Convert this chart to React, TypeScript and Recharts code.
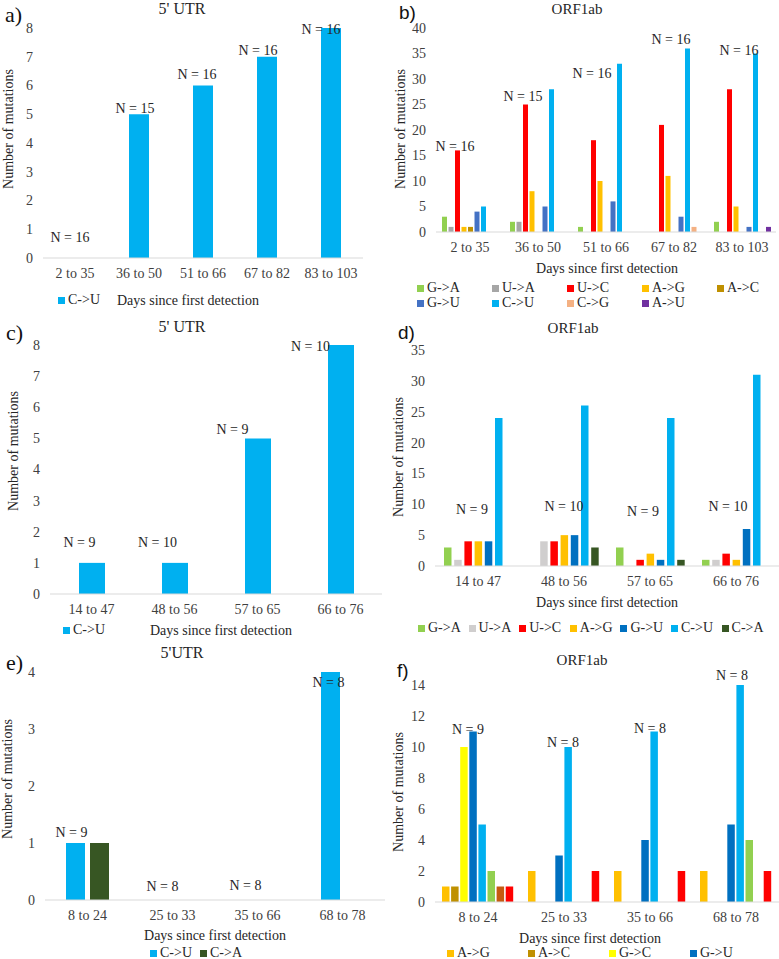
import { BarChart, Bar, XAxis, YAxis, Legend, ReferenceDot } from "recharts"

const SERIF = '"Liberation Serif", "Times New Roman", Times, serif'
const SANS = '"Liberation Sans", Arial, Helvetica, sans-serif'
const INK = "#262626"
const TICK = "#404040"
const AXIS = "#D9D9D9"

// mutation colours
const CU = "#00B0F0"
const GA = "#92D050"
const UA = "#A6A6A6"
const UA_LIGHT = "#D0CECE"
const UC = "#FF0000"
const AG = "#FFC000"
const AC = "#BF9000"
const GU = "#4472C4"
const GU_DARK = "#0070C0"
const CG = "#F4B183"
const AU = "#7030A0"
const CA = "#375623"
const GC = "#FFFF00"
const UG = "#C55A11"

// a) 5' UTR, first cohort
const aDays = ["2 to 35", "36 to 50", "51 to 66", "67 to 82", "83 to 103"]
const aTicks = [0, 1, 2, 3, 4, 5, 6, 7, 8]
const aCU = [0, 5, 6, 7, 8]
const aN = [16, 15, 16, 16, 16]
const aNAt = [0.73, 5.2, 6.37, 7.23, 7.96]

// b) ORF1ab, first cohort
const bDays = ["2 to 35", "36 to 50", "51 to 66", "67 to 82", "83 to 103"]
const bTicks = [0, 5, 10, 15, 20, 25, 30, 35, 40]
const bGA = [3, 2, 1, 0, 2]
const bUA = [1, 2, 0, 0, 0]
const bUC = [16, 25, 18, 21, 28]
const bAG = [1, 8, 10, 11, 5]
const bAC = [1, 0, 0, 0, 0]
const bGU = [4, 5, 6, 3, 1]
const bCU = [5, 28, 33, 36, 35]
const bCG = [0, 0, 0, 1, 0]
const bAU = [0, 0, 0, 0, 1]
const bN = [16, 15, 16, 16, 16]
const bNAt = [16.7, 26.5, 31, 37.8, 35.5]

// c) 5' UTR, second cohort
const cDays = ["14 to 47", "48 to 56", "57 to 65", "66 to 76"]
const cTicks = [0, 1, 2, 3, 4, 5, 6, 7, 8]
const cCU = [1, 1, 5, 8]
const cN = [9, 10, 9, 10]
const cNAt = [1.64, 1.64, 5.27, 7.94]

// d) ORF1ab, second cohort
const dDays = ["14 to 47", "48 to 56", "57 to 65", "66 to 76"]
const dTicks = [0, 5, 10, 15, 20, 25, 30, 35]
const dGA = [3, 0, 3, 1]
const dUA = [1, 4, 0, 1]
const dUC = [4, 4, 1, 2]
const dAG = [4, 5, 2, 1]
const dGU = [4, 5, 1, 6]
const dCU = [24, 26, 24, 31]
const dCA = [0, 3, 1, 0]
const dN = [9, 10, 9, 10]
const dNAt = [9.1, 9.6, 8.8, 9.6]

// e) 5'UTR, third cohort
const eDays = ["8 to 24", "25 to 33", "35 to 66", "68 to 78"]
const eTicks = [0, 1, 2, 3, 4]
const eCU = [1, 0, 0, 4]
const eCA = [1, 0, 0, 0]
const eN = [9, 8, 8, 8]
const eNAt = [1.19, 0.23, 0.26, 3.82]

// f) ORF1ab, third cohort
const fDays = ["8 to 24", "25 to 33", "35 to 66", "68 to 78"]
const fTicks = [0, 2, 4, 6, 8, 10, 12, 14]
const fAG = [1, 2, 2, 2]
const fAC = [1, 0, 0, 0]
const fGC = [10, 0, 0, 0]
const fGU = [11, 3, 4, 5]
const fCU = [5, 10, 11, 14]
const fGA = [2, 0, 0, 4]
const fUG = [1, 0, 0, 0]
const fUC = [1, 2, 2, 2]
const fN = [9, 8, 8, 8]
const fNAt = [11.1, 10.3, 11.2, 14.6]

type Series = { name: string; color: string; values: number[] }

type LegendCfg = { x: number; y: number; cols: number; colWidth: number; rowGap: number; limit?: number }

type Panel = {
  box: number[] // left, top, width, height on the page
  plot: number[] // x0, x1, y0, y1 on the page
  days: string[]
  series: Series[]
  ticks: number[]
  barSize: number
  barGap: number
  n: number[]
  nAt: number[]
  nShift: number[]
  title: string
  titleAt: number[]
  titleSize: number
  letter: string
  letterAt: number[]
  letterFont: string
  letterSize: number
  yTitleAt: number[]
  xTitleAt: number[]
  xTitleAnchor: "start" | "middle"
  legend: LegendCfg
}

const panels: Panel[] = [
  {
    box: [0, 0, 390, 315],
    plot: [43, 363, 28, 258],
    days: aDays,
    series: [{ name: "C->U", color: CU, values: aCU }],
    ticks: aTicks,
    barSize: 20,
    barGap: 0,
    n: aN,
    nAt: aNAt,
    nShift: [-5, -4, -6, -9, -10],
    title: "5' UTR",
    titleAt: [182, 9],
    titleSize: 16,
    letter: "a)",
    letterAt: [5, 15],
    letterFont: SERIF,
    letterSize: 22,
    yTitleAt: [8, 129],
    xTitleAt: [117, 300],
    xTitleAnchor: "start",
    legend: { x: 58, y: 300, cols: 1, colWidth: 50, rowGap: 15 },
  },
  {
    box: [390, 0, 389, 315],
    plot: [436, 776, 28, 232],
    days: bDays,
    series: [
      { name: "G->A", color: GA, values: bGA },
      { name: "U->A", color: UA, values: bUA },
      { name: "U->C", color: UC, values: bUC },
      { name: "A->G", color: AG, values: bAG },
      { name: "A->C", color: AC, values: bAC },
      { name: "G->U", color: GU, values: bGU },
      { name: "C->U", color: CU, values: bCU },
      { name: "C->G", color: CG, values: bCG },
      { name: "A->U", color: AU, values: bAU },
    ],
    ticks: bTicks,
    barSize: 5,
    barGap: 1.5,
    n: bN,
    nAt: bNAt,
    nShift: [-15, -15, -14, -3, -3],
    title: "ORF1ab",
    titleAt: [577, 9],
    titleSize: 15,
    letter: "b)",
    letterAt: [399, 12],
    letterFont: SANS,
    letterSize: 19,
    yTitleAt: [400, 129],
    xTitleAt: [607, 268],
    xTitleAnchor: "middle",
    legend: { x: 417, y: 288, cols: 5, colWidth: 75, rowGap: 15 },
  },
  {
    box: [0, 315, 390, 325],
    plot: [50, 382, 345, 594],
    days: cDays,
    series: [{ name: "C->U", color: CU, values: cCU }],
    ticks: cTicks,
    barSize: 26,
    barGap: 0,
    n: cN,
    nAt: cNAt,
    nShift: [-12, -17, -25, -30],
    title: "5' UTR",
    titleAt: [182, 327],
    titleSize: 16,
    letter: "c)",
    letterAt: [6, 333],
    letterFont: SERIF,
    letterSize: 22,
    yTitleAt: [13, 451],
    xTitleAt: [150, 630],
    xTitleAnchor: "start",
    legend: { x: 63, y: 630, cols: 1, colWidth: 50, rowGap: 15 },
  },
  {
    box: [390, 315, 389, 325],
    plot: [435, 779, 350, 566],
    days: dDays,
    series: [
      { name: "G->A", color: GA, values: dGA },
      { name: "U->A", color: UA_LIGHT, values: dUA },
      { name: "U->C", color: UC, values: dUC },
      { name: "A->G", color: AG, values: dAG },
      { name: "G->U", color: GU_DARK, values: dGU },
      { name: "C->U", color: CU, values: dCU },
      { name: "C->A", color: CA, values: dCA },
    ],
    ticks: dTicks,
    barSize: 7.5,
    barGap: 2.7,
    n: dN,
    nAt: dNAt,
    nShift: [-6, 0, -7, -8],
    title: "ORF1ab",
    titleAt: [573, 328],
    titleSize: 15,
    letter: "d)",
    letterAt: [398, 332],
    letterFont: SANS,
    letterSize: 19,
    yTitleAt: [398, 457],
    xTitleAt: [607, 602],
    xTitleAnchor: "middle",
    legend: { x: 418, y: 628, cols: 7, colWidth: 50.6, rowGap: 15 },
  },
  {
    box: [0, 640, 390, 319],
    plot: [45, 385, 672, 900],
    days: eDays,
    series: [
      { name: "C->U", color: CU, values: eCU },
      { name: "C->A", color: CA, values: eCA },
    ],
    ticks: eTicks,
    barSize: 19,
    barGap: 5,
    n: eN,
    nAt: eNAt,
    nShift: [-16, -10, -12, -14],
    title: "5'UTR",
    titleAt: [182, 653],
    titleSize: 16,
    letter: "e)",
    letterAt: [6, 663],
    letterFont: SERIF,
    letterSize: 22,
    yTitleAt: [7, 779],
    xTitleAt: [215, 935],
    xTitleAnchor: "middle",
    legend: { x: 150, y: 953, cols: 2, colWidth: 50, rowGap: 15 },
  },
  {
    box: [390, 640, 389, 319],
    plot: [435, 779, 685, 902],
    days: fDays,
    series: [
      { name: "A->G", color: AG, values: fAG },
      { name: "A->C", color: AC, values: fAC },
      { name: "G->C", color: GC, values: fGC },
      { name: "G->U", color: GU_DARK, values: fGU },
      { name: "C->U", color: CU, values: fCU },
      { name: "G->A", color: GA, values: fGA },
      { name: "U->G", color: UG, values: fUG },
      { name: "U->C", color: UC, values: fUC },
    ],
    ticks: fTicks,
    barSize: 7.5,
    barGap: 1.6,
    n: fN,
    nAt: fNAt,
    nShift: [-10, -1, 0, -4],
    title: "ORF1ab",
    titleAt: [582, 660],
    titleSize: 15,
    letter: "f)",
    letterAt: [397, 670],
    letterFont: SANS,
    letterSize: 19,
    yTitleAt: [398, 792],
    xTitleAt: [590, 938],
    xTitleAnchor: "middle",
    legend: { x: 447, y: 953, cols: 4, colWidth: 81, rowGap: 15, limit: 4 },
  },
]

const AXIS_H = 30
const AXIS_W = 30

function LegendGrid({ items, cfg }: { items: Series[]; cfg: LegendCfg }) {
  return (
    <div style={{ position: "relative", fontFamily: SERIF, fontSize: 14, color: INK }}>
      {items.map((s, i) => (
        <div
          key={s.name}
          style={{
            position: "absolute",
            left: (i % cfg.cols) * cfg.colWidth,
            top: Math.floor(i / cfg.cols) * cfg.rowGap,
            height: 16,
            display: "flex",
            alignItems: "center",
            whiteSpace: "nowrap",
          }}
        >
          <span style={{ width: 7, height: 7, background: s.color, marginRight: 3, display: "inline-block" }} />
          <span style={{ lineHeight: "16px" }}>{s.name}</span>
        </div>
      ))}
    </div>
  )
}

function MutationPanel({ p }: { p: Panel }) {
  const [bl, bt, bw, bh] = p.box
  const [x0, x1, y0, y1] = p.plot
  const margin = {
    top: y0 - bt,
    bottom: bt + bh - y1 - AXIS_H,
    left: x0 - bl - AXIS_W,
    right: bl + bw - x1,
  }
  const rows = p.days.map((day, i) => {
    const row: Record<string, string | number> = { day }
    p.series.forEach((s, k) => {
      row["s" + k] = s.values[i]
    })
    return row
  })
  const legendItems = p.series.slice(0, p.legend.limit ?? p.series.length)
  const legendRows = Math.ceil(legendItems.length / p.legend.cols)
  const tickStyle = { fontSize: 14, fill: TICK, fontFamily: SERIF }

  return (
    <div style={{ position: "absolute", left: bl, top: bt, width: bw, height: bh }}>
      <BarChart
        width={bw}
        height={bh}
        data={rows}
        margin={margin}
        barSize={p.barSize}
        barGap={p.barGap}
        style={{ overflow: "visible" }}
      >
        <XAxis
          dataKey="day"
          interval={0}
          height={AXIS_H}
          axisLine={{ stroke: AXIS }}
          tickLine={false}
          tickMargin={4}
          tick={tickStyle}
          label={() => (
            <text
              x={p.xTitleAt[0] - bl}
              y={p.xTitleAt[1] - bt}
              textAnchor={p.xTitleAnchor}
              dominantBaseline="central"
              fontFamily={SERIF}
              fontSize={14}
              fill={INK}
            >
              Days since first detection
            </text>
          )}
        />
        <YAxis
          width={AXIS_W}
          domain={[0, p.ticks[p.ticks.length - 1]]}
          ticks={p.ticks}
          interval={0}
          axisLine={false}
          tickLine={false}
          tickMargin={4}
          tick={tickStyle}
          label={() => (
            <text
              x={p.yTitleAt[0] - bl}
              y={p.yTitleAt[1] - bt}
              transform={`rotate(-90 ${p.yTitleAt[0] - bl} ${p.yTitleAt[1] - bt})`}
              textAnchor="middle"
              dominantBaseline="central"
              fontFamily={SERIF}
              fontSize={14}
              fill={INK}
            >
              Number of mutations
            </text>
          )}
        />
        {p.series.map((s, k) => (
          <Bar key={s.name} dataKey={"s" + k} name={s.name} fill={s.color} isAnimationActive={false} />
        ))}
        {p.days.map((d, i) => (
          <ReferenceDot
            key={"n" + d}
            x={d}
            y={p.nAt[i]}
            r={0}
            ifOverflow="visible"
            shape={(dot: any) => (
              <text
                x={dot.cx + p.nShift[i]}
                y={dot.cy}
                textAnchor="middle"
                dominantBaseline="central"
                fontFamily={SERIF}
                fontSize={14}
                fill={INK}
              >
                {`N = ${p.n[i]}`}
              </text>
            )}
          />
        ))}
        <Legend
          layout="horizontal"
          verticalAlign="middle"
          align="center"
          wrapperStyle={{
            left: p.legend.x - bl,
            top: p.legend.y - 8 - bt,
            width: p.legend.cols * p.legend.colWidth,
            height: legendRows * p.legend.rowGap + 2,
          }}
          content={() => <LegendGrid items={legendItems} cfg={p.legend} />}
        />
      </BarChart>
      <div
        style={{
          position: "absolute",
          left: p.titleAt[0] - bl,
          top: p.titleAt[1] - bt,
          transform: "translate(-50%, -50%)",
          fontFamily: SERIF,
          fontSize: p.titleSize,
          color: INK,
          whiteSpace: "nowrap",
          lineHeight: 1,
        }}
      >
        {p.title}
      </div>
      <div
        style={{
          position: "absolute",
          left: p.letterAt[0] - bl,
          top: p.letterAt[1] - bt,
          transform: "translateY(-50%)",
          fontFamily: p.letterFont,
          fontSize: p.letterSize,
          color: "#111",
          lineHeight: 1,
        }}
      >
        {p.letter}
      </div>
    </div>
  )
}

export default function App() {
  return (
    <div
      style={{
        position: "absolute",
        left: 0,
        top: 0,
        width: 779,
        height: 959,
        background: "#fff",
        overflow: "hidden",
      }}
    >
      {panels.map((p) => (
        <MutationPanel key={p.letter} p={p} />
      ))}
    </div>
  )
}
